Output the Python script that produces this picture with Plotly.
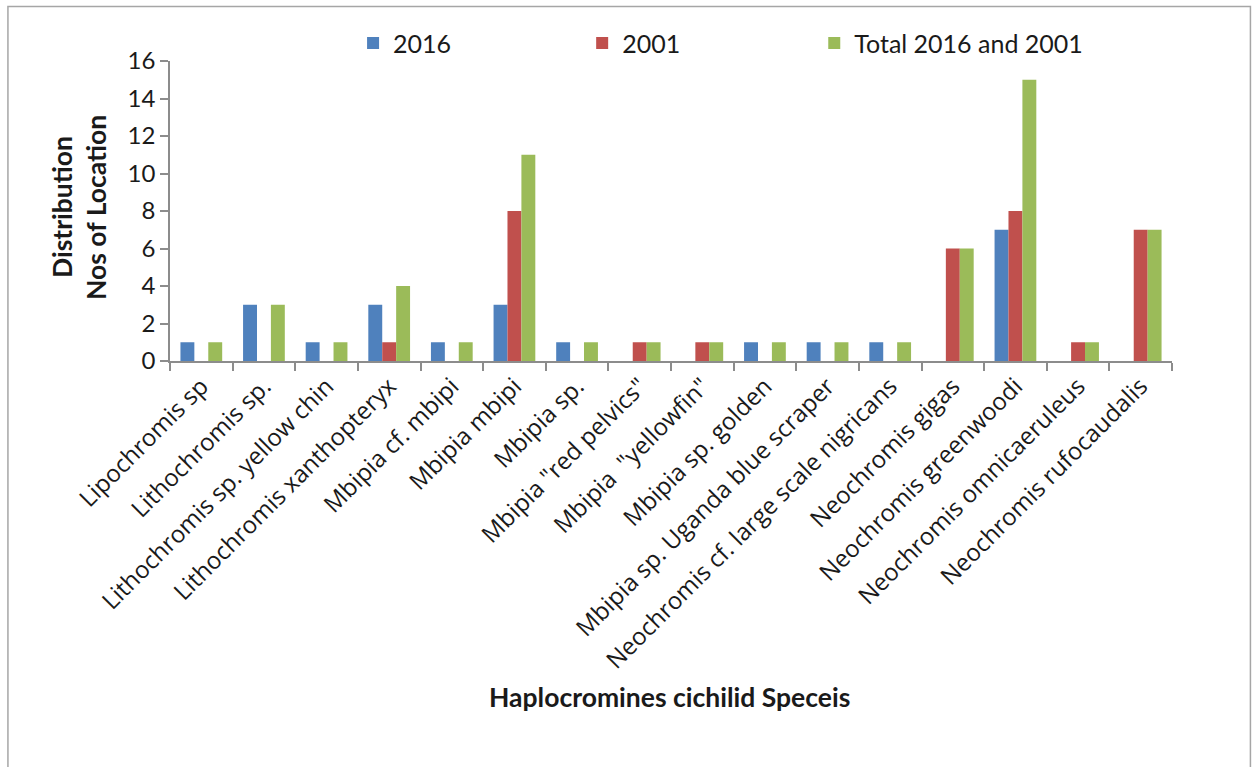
import plotly.graph_objects as go

# Haplochromine cichlid species and number of locations where each was recorded
species = [
    "Lipochromis sp",
    "Lithochromis sp.",
    "Lithochromis sp. yellow chin",
    "Lithochromis xanthopteryx",
    "Mbipia cf. mbipi",
    "Mbipia mbipi",
    "Mbipia sp.",
    'Mbipia "red pelvics"',
    'Mbipia  "yellowfin"',
    "Mbipia sp. golden",
    "Mbipia sp. Uganda blue scraper",
    "Neochromis cf. large scale nigricans",
    "Neochromis gigas",
    "Neochromis greenwoodi",
    "Neochromis omnicaeruleus",
    "Neochromis rufocaudalis",
]
locations_2016 = [1, 3, 1, 3, 1, 3, 1, 0, 0, 1, 1, 1, 0, 7, 0, 0]
locations_2001 = [0, 0, 0, 1, 0, 8, 0, 1, 1, 0, 0, 0, 6, 8, 1, 7]
locations_total = [1, 3, 1, 4, 1, 11, 1, 1, 1, 1, 1, 1, 6, 15, 1, 7]
y_ticks = [0, 2, 4, 6, 8, 10, 12, 14, 16]

FONT = "Lato, sans-serif"
LABEL_FONT = "'Open Sans', sans-serif"
AXIS_GREY = "#8c8c8c"
TEXT = "#1a1a1a"

W, H = 1257, 767
# plot area in pixels
PL, PR, PT, PB = 170, 1171.6, 60.7, 361.3


def px_x(x):
    return (x - PL) / (PR - PL)


def px_y(y):
    return (PB - y) / (PB - PT)


series = [
    ("2016", locations_2016, "#4F81BD", "legend", 353),
    ("2001", locations_2001, "#C0504D", "legend2", 582),
    ("Total 2016 and 2001", locations_total, "#9BBB59", "legend3", 814),
]

fig = go.Figure()
legends = {}
for name, vals, color, leg, left in series:
    fig.add_trace(go.Bar(x=species, y=vals, name=name, legend=leg,
                         marker=dict(color=color, line=dict(width=0))))
    legends[leg] = dict(orientation="h", x=px_x(left), y=px_y(43),
                        xanchor="left", yanchor="middle", font=dict(size=25),
                        bgcolor="rgba(0,0,0,0)")

fig.update_layout(
    width=W, height=H,
    margin=dict(l=PL, r=W - PR, t=PT, b=H - PB, autoexpand=False),
    paper_bgcolor="white", plot_bgcolor="white",
    barmode="group", bargap=1 / 3, bargroupgap=0,
    font=dict(family=FONT, size=22, color=TEXT),
    showlegend=True,
    **legends,
    xaxis=dict(type="category", tickangle=-45, showline=True, linecolor=AXIS_GREY,
               linewidth=1.5, ticks="outside", tickson="boundaries", ticklen=8,
               tickcolor=AXIS_GREY, tickwidth=1.5, showgrid=False,
               tickfont=dict(family=LABEL_FONT, size=24, color=TEXT), automargin=False),
    yaxis=dict(range=[0, 16], tickvals=y_ticks, showline=True, linecolor=AXIS_GREY,
               linewidth=1.5, ticks="outside", ticklen=8, tickcolor=AXIS_GREY,
               tickwidth=1.5, showgrid=False, zeroline=False,
               tickfont=dict(size=24, color=TEXT), automargin=False),
    shapes=[dict(type="rect", xref="paper", yref="paper",
                 x0=px_x(8), x1=px_x(1250), y0=px_y(800), y1=px_y(6),
                 line=dict(color="#a6a6a6", width=1.5), fillcolor="rgba(0,0,0,0)",
                 layer="below")],
    annotations=[
        dict(text="<b>Distribution</b>", xref="paper", yref="paper",
             x=px_x(62), y=px_y(207), textangle=-90, showarrow=False,
             xanchor="center", yanchor="middle", font=dict(size=26.5)),
        dict(text="<b>Nos of Location</b>", xref="paper", yref="paper",
             x=px_x(96), y=px_y(207), textangle=-90, showarrow=False,
             xanchor="center", yanchor="middle", font=dict(size=26.5)),
        dict(text="<b>Haplocromines cichilid Speceis</b>", xref="paper", yref="paper",
             x=px_x(669), y=px_y(698), showarrow=False,
             xanchor="center", yanchor="middle", font=dict(size=26.5)),
    ],
)

fig.write_html("out.html")
